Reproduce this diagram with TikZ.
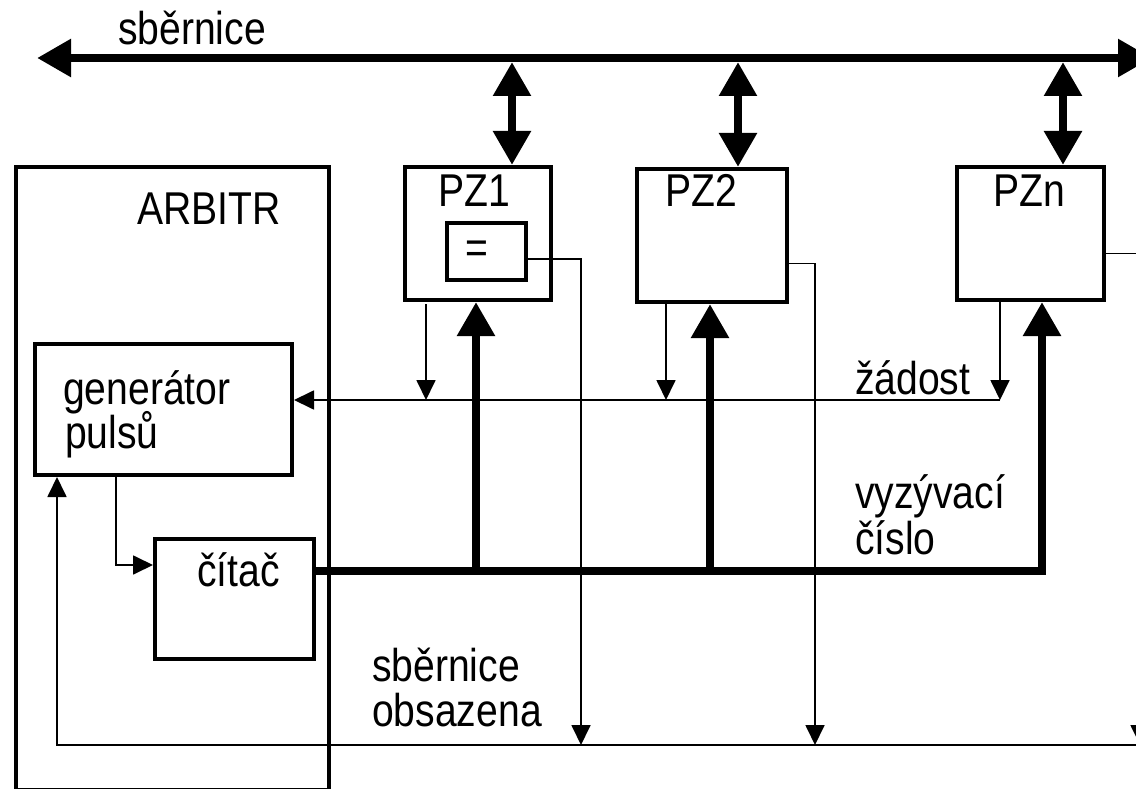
\documentclass[tikz,border=0pt]{standalone}
\usepackage{fontspec}
\setmainfont{Liberation Sans}[FakeStretch=0.85]
\usetikzlibrary{arrows.meta}
\begin{document}
\begin{tikzpicture}[x=1pt,y=-1pt,
  box/.style={draw, line width=4pt, inner sep=0pt, anchor=north west},
  txt/.style={font=\fontsize{46}{46}\selectfont, inner sep=0pt, anchor=base west},
  busline/.style={line width=8.5pt, line join=miter},
  sig/.style={line width=1.8pt},
  bigtip/.tip={Triangle[length=34pt,width=36pt]},
  smalltip/.tip={Triangle[length=20pt,width=19pt]}]
\useasboundingbox (0,0) rectangle (1136,789);
\clip (0,0) rectangle (1136,789);

% boxes
\node[box, minimum width=313pt, minimum height=623pt] (arb) at (14,165) {};
\node[box, minimum width=257pt, minimum height=131pt] (gen) at (33,342) {};
\node[box, minimum width=159pt, minimum height=120pt] (cit) at (153,537) {};
\node[box, minimum width=146pt, minimum height=133pt] (pz1) at (403,165) {};
\node[box, line width=3.5pt, minimum width=79pt, minimum height=57pt] (eq) at (445,221) {};
\node[box, minimum width=150pt, minimum height=133pt] (pz2) at (635,167) {};
\node[box, minimum width=147pt, minimum height=133pt] (pzn) at (955,165) {};

% texts
\node[txt] (tbus) at (118,45) {sběrnice};
\node[txt] (tarb) at (137,224) {ARBITR};
\node[txt] (tgen1) at (63,404) {generátor};
\node[txt] (tgen2) at (65,448) {pulsů};
\node[txt] (tcit) at (197,586) {čítač};
\node[txt] (tpz1) at (438,207) {PZ1};
\node[txt] (tpz2) at (665,207) {PZ2};
\node[txt] (tpzn) at (993,207) {PZn};
\node[txt, anchor=center] (teq) at (477,252) {=};
\node[txt] (tzad) at (855,394) {žádost};
\node[txt] (tvyz1) at (855,508) {vyzývací};
\node[txt] (tvyz2) at (855,554) {číslo};
\node[txt] (tobs1) at (372,681) {sběrnice};
\node[txt] (tobs2) at (372,726) {obsazena};

% coordinates
\coordinate (busL) at (37,58);
\coordinate (busR) at (1152,58);
\coordinate (b1) at (512,62);
\coordinate (b2) at (738,62);
\coordinate (b3) at (1063,62);
\coordinate (j1) at (476,571);
\coordinate (j2) at (710,571);
\coordinate (jn) at (1042,571);
\coordinate (r1s) at (426,304);
\coordinate (r1) at (426,400);
\coordinate (r2s) at (666,304);
\coordinate (r2) at (666,400);
\coordinate (rns) at (1000,302);
\coordinate (rn) at (1000,400);
\coordinate (g1) at (116,473);
\coordinate (c1) at (153,565);
\coordinate (bl) at (57,745);
\coordinate (o1) at (581,745);
\coordinate (o2) at (815,745);
\coordinate (o3) at (1140,745);

% top bus and bidirectional links
\draw[busline, bigtip-bigtip] (busL) -- (busR);
\draw[busline, bigtip-bigtip] (b1) -- (b1 |- pz1.north);
\draw[busline, bigtip-bigtip] (b2) -- (b2 |- pz2.north);
\draw[busline, bigtip-bigtip] (b3) -- (b3 |- pzn.north);

% call number bus
\draw[busline, -bigtip] (cit.north east |- j1) -- (jn) -- (jn |- pzn.south);
\draw[busline, -bigtip] (j1) -- (j1 |- pz1.south);
\draw[busline, -bigtip] (j2) -- (j2 |- pz2.south);

% request lines
\draw[sig, -smalltip] (r1s) -- (r1);
\draw[sig, -smalltip] (r2s) -- (r2);
\draw[sig, -smalltip] (rns) -- (rn);
\draw[sig, -smalltip] (rn) -- (gen.east |- rn);

% generator -> counter
\draw[sig, -smalltip] (g1) |- (c1);

% bus busy lines
\draw[sig, -smalltip] ([yshift=-7.5pt]eq.east) -| (o1);
\draw[sig, -smalltip] ([yshift=-28pt]pz2.east) -| (o2);
\draw[sig, -smalltip] ([yshift=-20pt]pzn.east) -| (o3);
\draw[sig, -smalltip] (o3) -- (bl) -- (bl |- gen.south);
\end{tikzpicture}
\end{document}
